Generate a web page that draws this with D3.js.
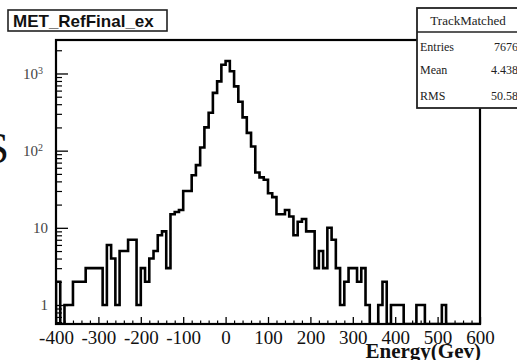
<!DOCTYPE html>
<html><head><meta charset="utf-8">
<script src="https://cdn.jsdelivr.net/npm/d3@7"></script>
<style>body{margin:0;background:#fff;overflow:hidden}svg{display:block}</style>
</head><body>
<svg id="c" width="517" height="360"></svg>
<script>
// ---- data ----
const binStart = -400;
const binWidth = 10;
const counts = [
  2,0,1,1,2,2,2,3,3,3, 3,1,6,4,1,5,5,7,7,1,
  3,2,4,5,8,9,3,15,16,17, 30,30,48,65,110,200,310,560,790,1300,
  1450,1070,680,430,270,170,113,52,45,42, 28,25,15,15,17,14,8,12,13,9,
  9,3,5,3,10,7,3,1,2,3, 3,2,3,1,0,0,1,2,0,1,
  1,1,0,0,0,1,1,0,0,0, 0,1,0,0,0,0,0,0,0,0
];
const xMajorTicks = [-400,-300,-200,-100,0,100,200,300,400,500,600];
const xTickLabels = ["-400","-300","-200","-100","0","100","200","300","400","500","600"];
const yMajorTicks = [1,10,100,1000];
const yTickBase = ["1","10","10","10"];
const yTickExp = ["","","2","3"];
const titleText = "MET_RefFinal_ex";
const statsTitle = "TrackMatched";
const statsNames = ["Entries","Mean","RMS"];
const statsValues = ["7676","4.438","50.58"];
const xTitle = "Energy(Gev)";
const sideText = "S";

// ---- layout ----
const svg = d3.select("#c");
const L = 56, R = 480, T = 40, B = 324;
const x = d3.scaleLinear().domain([-400, 600]).range([L, R]);
const y = d3.scaleLog().domain([0.567, 2716]).range([B, T]).clamp(true);

// side glyph
svg.append("text").attr("x", 9).attr("y", 163).attr("text-anchor", "end")
  .attr("font-family", "Liberation Serif, serif").attr("font-size", 44).attr("fill", "#111")
  .text(sideText);

// clip
svg.append("clipPath").attr("id", "clip").append("rect")
  .attr("x", L).attr("y", T).attr("width", R - L).attr("height", B - T);

// histogram
const pts = [[x(binStart), B]];
counts.forEach((c, i) => {
  const lo = binStart + i * binWidth, hi = lo + binWidth;
  const yy = c > 0 ? y(c) : B;
  pts.push([x(lo), yy]);
  pts.push([x(hi), yy]);
});
pts.push([x(binStart + counts.length * binWidth), B]);
svg.append("path").attr("clip-path", "url(#clip)")
  .attr("d", d3.line()(pts)).attr("fill", "none")
  .attr("stroke", "#000").attr("stroke-width", 2.6).attr("stroke-linejoin", "miter");

// x axis major
const xMinor = d3.range(-400, 601, 20).filter(v => v % 100 !== 0);
const gx = svg.append("g").attr("transform", `translate(0,${B})`)
  .call(d3.axisBottom(x).tickValues(xMajorTicks).tickSizeInner(-7).tickSizeOuter(0).tickPadding(7)
    .tickFormat((d, i) => xTickLabels[i]));
gx.select(".domain").remove();
gx.selectAll("line").attr("stroke", "#000").attr("stroke-width", 1.3);
gx.selectAll("text").attr("font-family", "Liberation Serif, serif").attr("font-size", 19)
  .attr("fill", "#111").attr("dy", "0.71em");
const gxm = svg.append("g").attr("transform", `translate(0,${B})`)
  .call(d3.axisBottom(x).tickValues(xMinor).tickSizeInner(-3.5).tickSizeOuter(0).tickFormat(""));
gxm.select(".domain").remove();
gxm.selectAll("line").attr("stroke", "#000").attr("stroke-width", 1.2);

// y axis
const yMinor = [];
[0.1, 1, 10, 100, 1000].forEach(d => { for (let k = 2; k <= 9; k++) { const v = d * k; if (v > 0.567 && v < 2716) yMinor.push(v); } });
const gy = svg.append("g").attr("transform", `translate(${L},0)`)
  .call(d3.axisLeft(y).tickValues(yMajorTicks).tickSizeInner(-12).tickSizeOuter(0).tickPadding(8).tickFormat(""));
gy.select(".domain").remove();
gy.selectAll("line").attr("stroke", "#000").attr("stroke-width", 1.3);
gy.selectAll("text").each(function(d, i) {
  const t = d3.select(this)
    .attr("font-family", "Liberation Serif, serif").attr("font-size", 15).attr("fill", "#444");
  t.text(null);
  t.append("tspan").text(yTickBase[i]);
  if (yTickExp[i]) {
    t.attr("dx", -5);
    t.append("tspan").attr("dy", "-0.45em").attr("font-size", 10).text(yTickExp[i]);
  }
});
const gym = svg.append("g").attr("transform", `translate(${L},0)`)
  .call(d3.axisLeft(y).tickValues(yMinor).tickSizeInner(-6).tickSizeOuter(0).tickFormat(""));
gym.select(".domain").remove();
gym.selectAll("line").attr("stroke", "#000").attr("stroke-width", 1.2);

// frame
svg.append("rect").attr("x", L).attr("y", T).attr("width", R - L).attr("height", B - T)
  .attr("fill", "none").attr("stroke", "#000").attr("stroke-width", 2.2);

// x title
svg.append("text").attr("x", 481).attr("y", 358).attr("text-anchor", "end")
  .attr("font-family", "Liberation Serif, serif").attr("font-weight", "bold").attr("font-size", 21)
  .attr("fill", "#111").text(xTitle);

// title box
svg.append("rect").attr("x", 8).attr("y", 10).attr("width", 159).attr("height", 21)
  .attr("fill", "#fff").attr("stroke", "#222").attr("stroke-width", 1.6);
svg.append("text").attr("x", 13).attr("y", 27)
  .attr("font-family", "Liberation Sans, Arial, sans-serif").attr("font-weight", "bold").attr("font-size", 17)
  .attr("fill", "#111").text(titleText);

// stats box
const sb = svg.append("g");
sb.append("rect").attr("x", 417).attr("y", 8).attr("width", 110).attr("height", 100)
  .attr("fill", "#fff").attr("stroke", "#222").attr("stroke-width", 1.8);
sb.append("line").attr("x1", 417).attr("x2", 527).attr("y1", 32).attr("y2", 32)
  .attr("stroke", "#222").attr("stroke-width", 1.5);
sb.append("text").attr("x", 468).attr("y", 25).attr("text-anchor", "middle")
  .attr("font-family", "Liberation Serif, serif").attr("font-size", 13).attr("fill", "#222").text(statsTitle);
const rowY = [51, 74, 100];
statsNames.forEach((n, i) => {
  sb.append("text").attr("x", 420).attr("y", rowY[i])
    .attr("font-family", "Liberation Serif, serif").attr("font-size", 12).attr("fill", "#222").text(n);
  sb.append("text").attr("x", 518).attr("y", rowY[i]).attr("text-anchor", "end")
    .attr("font-family", "Liberation Serif, serif").attr("font-size", 12).attr("fill", "#222").text(statsValues[i]);
});
</script>
</body></html>
